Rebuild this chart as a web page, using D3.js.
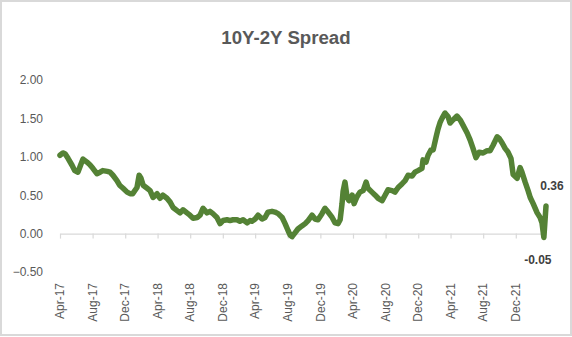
<!DOCTYPE html>
<html>
<head>
<meta charset="utf-8">
<script src="https://cdn.jsdelivr.net/npm/d3@7"></script>
<style>
  html, body { margin: 0; padding: 0; background: #fff; }
  svg { display: block; font-family: "Liberation Sans", Arial, sans-serif; }
</style>
</head>
<body>
<svg id="chart" width="572" height="337"></svg>
<script>
// 10Y-2Y Treasury spread, percentage points
const dates = [
  "2017-04-01","2017-04-12","2017-04-20","2017-05-01","2017-05-16","2017-05-26","2017-06-07","2017-06-19",
  "2017-06-26","2017-07-11","2017-07-21","2017-08-02","2017-08-17","2017-08-29","2017-09-08","2017-09-25",
  "2017-10-05","2017-10-16","2017-10-31","2017-11-10","2017-11-23","2017-12-08","2017-12-19","2017-12-29",
  "2018-01-14","2018-01-22","2018-01-29","2018-02-06","2018-02-21","2018-03-04","2018-03-15","2018-03-30",
  "2018-04-10","2018-04-21","2018-05-06","2018-05-18","2018-05-29","2018-06-13","2018-06-24","2018-07-05",
  "2018-07-20","2018-07-31","2018-08-12","2018-08-27","2018-09-07","2018-09-18","2018-10-03","2018-10-14",
  "2018-10-25","2018-11-09","2018-11-21","2018-12-02","2018-12-17","2018-12-28","2019-01-08","2019-01-23",
  "2019-02-03","2019-02-15","2019-03-02","2019-03-13","2019-03-20","2019-04-01","2019-04-12","2019-04-27",
  "2019-05-08","2019-05-19","2019-06-03","2019-06-14","2019-06-26","2019-07-11","2019-07-22","2019-08-02",
  "2019-08-10","2019-08-17","2019-08-28","2019-09-08","2019-09-23","2019-10-05","2019-10-16","2019-10-31",
  "2019-11-11","2019-11-22","2019-12-07","2019-12-18","2019-12-30","2020-01-14","2020-01-25","2020-02-05",
  "2020-02-13","2020-02-20","2020-02-24","2020-03-02","2020-03-10","2020-03-17","2020-03-29","2020-04-05",
  "2020-04-16","2020-04-27","2020-05-09","2020-05-20","2020-05-27","2020-06-11","2020-06-23","2020-07-04",
  "2020-07-19","2020-07-30","2020-08-10","2020-08-25","2020-09-05","2020-09-17","2020-10-02","2020-10-13",
  "2020-10-24","2020-11-08","2020-11-19","2020-11-30","2020-12-15","2020-12-19","2020-12-30","2021-01-07",
  "2021-01-18","2021-01-26","2021-02-06","2021-02-13","2021-02-21","2021-02-28","2021-03-11","2021-03-23",
  "2021-03-30","2021-04-10","2021-04-25","2021-05-07","2021-05-18","2021-06-02","2021-06-13","2021-06-24",
  "2021-07-05","2021-07-17","2021-08-01","2021-08-16","2021-08-27","2021-09-07","2021-09-22","2021-09-30",
  "2021-10-11","2021-10-22","2021-11-02","2021-11-13","2021-11-21","2021-12-06","2021-12-17","2021-12-24",
  "2022-01-05","2022-01-16","2022-01-24","2022-02-04","2022-02-19","2022-03-02","2022-03-09","2022-03-16",
  "2022-03-24"
];
const spread = [
  1.02, 1.05, 1.04, 0.98, 0.89, 0.82, 0.80, 0.91,
  0.97, 0.93, 0.90, 0.85, 0.78, 0.80, 0.82, 0.81,
  0.80, 0.76, 0.69, 0.63, 0.59, 0.54, 0.52, 0.52,
  0.60, 0.76, 0.72, 0.63, 0.59, 0.56, 0.47, 0.52,
  0.46, 0.50, 0.46, 0.41, 0.34, 0.30, 0.27, 0.31,
  0.27, 0.24, 0.20, 0.21, 0.24, 0.33, 0.27, 0.29,
  0.26, 0.21, 0.13, 0.17, 0.18, 0.17, 0.18, 0.18,
  0.16, 0.18, 0.14, 0.17, 0.16, 0.19, 0.24, 0.19,
  0.21, 0.28, 0.29, 0.28, 0.26, 0.21, 0.13, 0.04,
  -0.02, -0.04, 0.01, 0.06, 0.10, 0.13, 0.17, 0.24,
  0.19, 0.18, 0.26, 0.33, 0.28, 0.21, 0.14, 0.13,
  0.18, 0.39, 0.55, 0.67, 0.47, 0.43, 0.50, 0.39,
  0.48, 0.54, 0.56, 0.67, 0.59, 0.54, 0.50, 0.46,
  0.43, 0.50, 0.57, 0.56, 0.54, 0.60, 0.65, 0.69,
  0.76, 0.75, 0.80, 0.82, 0.85, 0.96, 0.93, 1.02,
  1.09, 1.09, 1.26, 1.36, 1.45, 1.50, 1.57, 1.52,
  1.44, 1.48, 1.53, 1.48, 1.41, 1.31, 1.22, 1.11,
  0.99, 1.06, 1.05, 1.08, 1.08, 1.15, 1.26, 1.24,
  1.18, 1.11, 1.06, 0.98, 0.77, 0.72, 0.86, 0.80,
  0.67, 0.56, 0.47, 0.39, 0.27, 0.21, 0.14, -0.05,
  0.36
];
const yTicks = [-0.5, 0, 0.5, 1.0, 1.5, 2.0];
const xTickMonths = ["2017-04","2017-08","2017-12","2018-04","2018-08","2018-12","2019-04","2019-08",
  "2019-12","2020-04","2020-08","2020-12","2021-04","2021-08","2021-12"];
const titleText = "10Y-2Y Spread";

const parseDay = d3.timeParse("%Y-%m-%d");
const parseMonth = d3.timeParse("%Y-%m");
const series = dates.map((d, i) => ({ date: parseDay(d), value: spread[i] }));

const svg = d3.select("#chart");
const W = 572, H = 337;

// chart frame
svg.append("rect")
  .attr("x", 1).attr("y", 1).attr("width", W - 2).attr("height", H - 3)
  .attr("fill", "#fff").attr("stroke", "#d9d9d9").attr("stroke-width", 2);

svg.append("text")
  .attr("x", 286).attr("y", 44)
  .attr("text-anchor", "middle")
  .attr("font-size", 18.67).attr("font-weight", "bold")
  .attr("fill", "#595959")
  .text(titleText);

const x = d3.scaleTime()
  .domain([parseDay("2017-04-01"), series[series.length - 1].date])
  .range([60, 546]);
const y = d3.scaleLinear().domain([-0.5, 2.0]).range([272, 80]);

// y axis labels (no axis line)
const yAxis = svg.append("g")
  .attr("transform", "translate(49,0)")
  .call(d3.axisLeft(y).tickValues(yTicks).tickFormat(d3.format(".2f")).tickSize(0).tickPadding(6));
yAxis.select(".domain").remove();
yAxis.selectAll("text").attr("font-size", 12).attr("fill", "#595959")
  .attr("font-family", "Liberation Sans, Arial, sans-serif");

// x axis line at zero with outward ticks
const tickDates = xTickMonths.map(parseMonth);
const xAxis = svg.append("g")
  .attr("transform", `translate(0,${y(0)})`)
  .call(d3.axisBottom(x).tickValues(tickDates).tickSize(5).tickSizeOuter(0).tickFormat(""));
xAxis.select(".domain").attr("stroke", "#d9d9d9").attr("stroke-width", 1.2);
xAxis.selectAll(".tick line").attr("stroke", "#d9d9d9").attr("stroke-width", 1.2);

// month labels sit below the plot area, rotated
const fmt = d3.timeFormat("%b-%y");
svg.append("g").selectAll("text")
  .data(tickDates)
  .join("text")
  .attr("transform", d => `translate(${x(d)},283) rotate(-90)`)
  .attr("text-anchor", "end")
  .attr("dy", "0.35em")
  .attr("font-size", 12)
  .attr("fill", "#595959")
  .text(fmt);

// spread line
const line = d3.line()
  .x(d => x(d.date))
  .y(d => y(d.value));
svg.append("path")
  .datum(series)
  .attr("fill", "none")
  .attr("stroke", "#548235")
  .attr("stroke-width", 5.5)
  .attr("stroke-linejoin", "round")
  .attr("stroke-linecap", "round")
  .attr("d", line);

// value labels: latest reading and the low of the recent inversion
const last = series[series.length - 1];
const minPt = series.reduce((a, b) => (b.value <= a.value ? b : a));
svg.append("text")
  .attr("x", x(last.date) + 6).attr("y", y(last.value) - 16)
  .attr("text-anchor", "middle")
  .attr("font-size", 12).attr("font-weight", "bold").attr("fill", "#404040")
  .text(last.value.toFixed(2));
svg.append("text")
  .attr("x", x(minPt.date) - 6).attr("y", y(minPt.value) + 27)
  .attr("text-anchor", "middle")
  .attr("font-size", 12).attr("font-weight", "bold").attr("fill", "#404040")
  .text(minPt.value.toFixed(2));
</script>
</body>
</html>
